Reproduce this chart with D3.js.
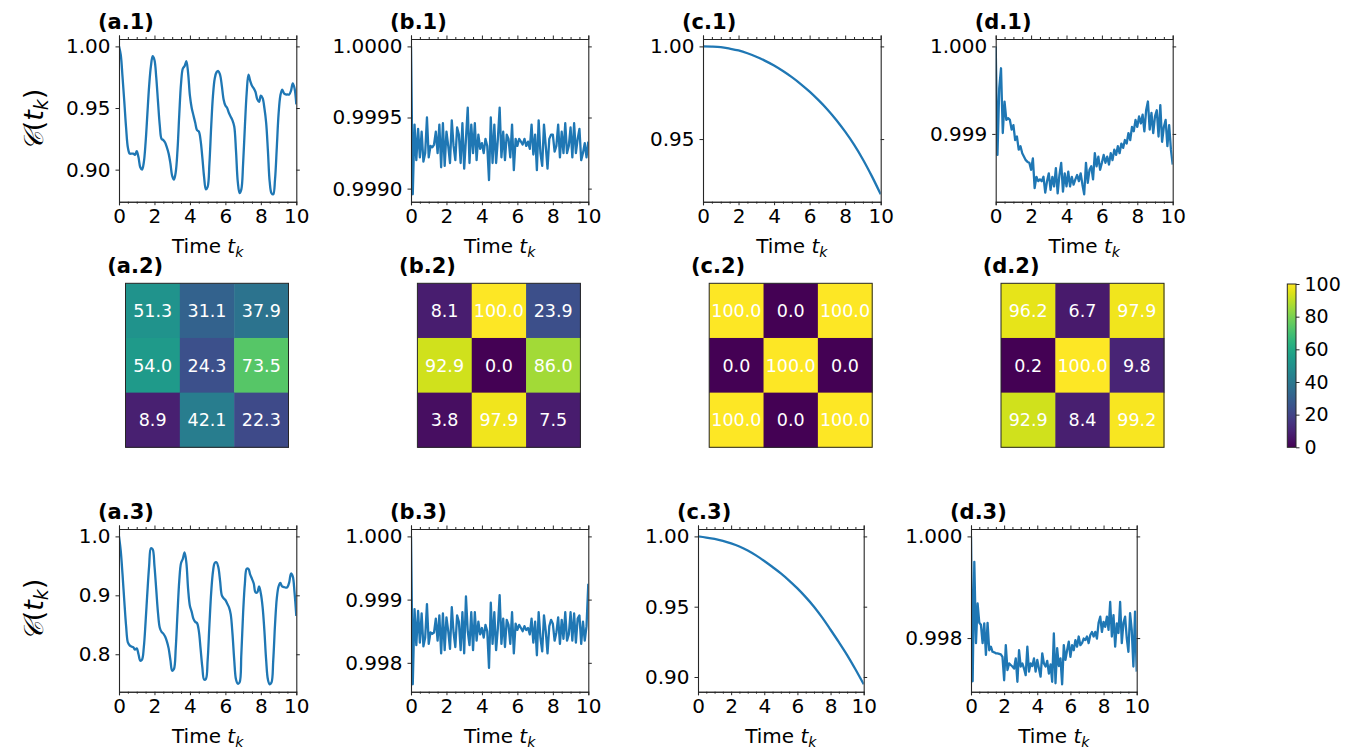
<!DOCTYPE html>
<html><head><meta charset="utf-8">
<script src="https://cdn.jsdelivr.net/npm/d3@7"></script>
<style>body{margin:0;background:#fff} text{font-family:"DejaVu Sans",sans-serif;fill:#000}</style>
</head><body><svg id="c" width="1360" height="750"></svg>
<script>
// ---------------- DATA ----------------
const timeTicks = [0, 2, 4, 6, 8, 10];
const timeTickLabels = ["0", "2", "4", "6", "8", "10"];
const timeFine = d3.range(0, 101).map(i => i / 10);     // 0.0 .. 10.0 step 0.1
const timeCoarse = d3.range(0, 21).map(i => i / 2);     // 0.0 .. 10.0 step 0.5

const seriesA1 = [1.000,0.993,0.975,0.955,0.934,0.918,0.913,0.913,0.913,0.912,
0.915,0.910,0.902,0.900,0.906,0.922,0.945,0.968,0.984,0.992,
0.989,0.975,0.955,0.936,0.925,0.924,0.922,0.918,0.913,0.905,
0.895,0.892,0.898,0.916,0.945,0.970,0.982,0.984,0.988,0.978,
0.960,0.950,0.944,0.938,0.932,0.931,0.924,0.910,0.894,0.884,
0.886,0.905,0.935,0.960,0.974,0.979,0.980,0.977,0.968,0.957,
0.952,0.950,0.946,0.943,0.940,0.935,0.915,0.890,0.881,0.884,
0.905,0.935,0.962,0.977,0.972,0.968,0.966,0.963,0.957,0.955,
0.960,0.958,0.950,0.938,0.915,0.890,0.881,0.880,0.892,0.918,
0.945,0.960,0.965,0.962,0.961,0.961,0.961,0.964,0.970,0.966,0.953];

const seriesB1 = [1.00000,0.99896,0.99945,0.99920,0.99942,0.99922,0.99940,0.99919,0.99925,0.99950,
0.99922,0.99930,0.99929,0.99931,0.99940,0.99925,0.99945,0.99915,0.99946,0.99916,
0.99940,0.99930,0.99918,0.99948,0.99930,0.99920,0.99943,0.99938,0.99918,0.99946,
0.99914,0.99935,0.99957,0.99918,0.99945,0.99925,0.99946,0.99920,0.99938,0.99928,
0.99932,0.99925,0.99935,0.99930,0.99906,0.99950,0.99918,0.99945,0.99918,0.99935,
0.99957,0.99922,0.99940,0.99920,0.99938,0.99935,0.99922,0.99945,0.99913,0.99935,
0.99930,0.99935,0.99933,0.99931,0.99935,0.99930,0.99933,0.99928,0.99945,0.99924,
0.99938,0.99913,0.99948,0.99925,0.99916,0.99945,0.99930,0.99914,0.99935,0.99938,
0.99938,0.99926,0.99930,0.99945,0.99922,0.99940,0.99925,0.99946,0.99925,0.99930,
0.99943,0.99922,0.99946,0.99925,0.99935,0.99942,0.99920,0.99925,0.99932,0.99922,0.99933];

const seriesC1 = [1.0000,0.9999,0.9996,0.9988,0.9978,0.9963,0.9944,0.9922,0.9897,0.9867,
0.9834,0.9797,0.9756,0.9710,0.9660,0.9603,0.9540,0.9470,0.9390,0.9300,0.9202];

const seriesD1 = [1.00000,0.99876,0.99952,0.99975,0.99901,0.99937,0.99916,0.99918,0.99916,0.99905,
0.99910,0.99893,0.99897,0.99882,0.99886,0.99878,0.99874,0.99870,0.99868,0.99867,
0.99859,0.99872,0.99838,0.99851,0.99846,0.99848,0.99846,0.99851,0.99833,0.99846,
0.99855,0.99836,0.99851,0.99840,0.99861,0.99832,0.99853,0.99867,0.99834,0.99855,
0.99840,0.99857,0.99840,0.99851,0.99842,0.99848,0.99853,0.99846,0.99855,0.99842,
0.99831,0.99867,0.99844,0.99859,0.99863,0.99848,0.99878,0.99863,0.99874,0.99859,
0.99867,0.99876,0.99867,0.99874,0.99865,0.99878,0.99870,0.99882,0.99876,0.99886,
0.99878,0.99889,0.99884,0.99893,0.99889,0.99901,0.99893,0.99908,0.99903,0.99916,
0.99908,0.99920,0.99912,0.99922,0.99903,0.99927,0.99937,0.99905,0.99924,0.99901,
0.99920,0.99927,0.99897,0.99933,0.99891,0.99908,0.99916,0.99886,0.99910,0.99882,0.99865];

const seriesA3 = [1.000,0.975,0.935,0.890,0.848,0.820,0.815,0.813,0.812,0.808,
0.810,0.800,0.789,0.791,0.812,0.855,0.905,0.950,0.980,0.978,
0.950,0.910,0.870,0.845,0.838,0.835,0.830,0.822,0.810,0.790,
0.772,0.775,0.810,0.870,0.925,0.955,0.962,0.973,0.955,0.910,
0.882,0.872,0.860,0.855,0.853,0.840,0.810,0.778,0.757,0.758,
0.790,0.850,0.905,0.940,0.955,0.956,0.948,0.925,0.900,0.895,
0.892,0.886,0.880,0.868,0.835,0.790,0.757,0.750,0.752,0.800,
0.870,0.920,0.945,0.945,0.935,0.928,0.920,0.905,0.905,0.915,
0.903,0.880,0.840,0.790,0.757,0.749,0.752,0.790,0.850,0.895,
0.915,0.921,0.915,0.914,0.913,0.914,0.922,0.937,0.932,0.905,0.865];

const seriesB3 = [1.00000,0.99766,0.99885,0.99828,0.99882,0.99832,0.99878,0.99826,0.99840,0.99893,
0.99830,0.99848,0.99846,0.99848,0.99870,0.99835,0.99875,0.99815,0.99878,0.99820,
0.99872,0.99850,0.99822,0.99888,0.99848,0.99825,0.99875,0.99865,0.99820,0.99880,
0.99815,0.99905,0.99850,0.99828,0.99880,0.99820,0.99880,0.99835,0.99865,0.99845,
0.99855,0.99840,0.99860,0.99850,0.99792,0.99895,0.99830,0.99880,0.99820,0.99855,
0.99907,0.99830,0.99870,0.99825,0.99868,0.99860,0.99830,0.99880,0.99815,0.99862,
0.99852,0.99860,0.99855,0.99850,0.99858,0.99852,0.99855,0.99845,0.99870,0.99832,
0.99865,0.99812,0.99880,0.99840,0.99818,0.99875,0.99850,0.99815,0.99858,0.99868,
0.99862,0.99835,0.99848,0.99872,0.99830,0.99868,0.99838,0.99880,0.99835,0.99845,
0.99880,0.99835,0.99878,0.99832,0.99870,0.99875,0.99830,0.99865,0.99835,0.99858,0.99925];

const seriesC3 = [1.0000,0.9992,0.9982,0.9968,0.9950,0.9928,0.9900,0.9865,0.9825,0.9782,
0.9737,0.9686,0.9630,0.9568,0.9500,0.9422,0.9336,0.9248,0.9156,0.9055,0.8948];

const seriesD3 = [1.00000,0.99715,0.99950,0.99790,0.99868,0.99830,0.99826,0.99790,0.99829,0.99767,
0.99830,0.99776,0.99783,0.99773,0.99772,0.99770,0.99770,0.99769,0.99768,0.99763,
0.99717,0.99786,0.99737,0.99750,0.99747,0.99744,0.99740,0.99760,0.99714,0.99776,
0.99744,0.99750,0.99740,0.99727,0.99783,0.99734,0.99750,0.99745,0.99760,0.99734,
0.99757,0.99740,0.99724,0.99770,0.99750,0.99744,0.99755,0.99730,0.99748,0.99714,
0.99809,0.99711,0.99780,0.99745,0.99760,0.99709,0.99786,0.99757,0.99776,0.99793,
0.99763,0.99786,0.99776,0.99796,0.99783,0.99803,0.99786,0.99790,0.99799,0.99796,
0.99803,0.99790,0.99806,0.99812,0.99803,0.99812,0.99799,0.99830,0.99842,0.99812,
0.99832,0.99822,0.99842,0.99816,0.99871,0.99803,0.99845,0.99783,0.99829,0.99810,
0.99871,0.99790,0.99830,0.99842,0.99800,0.99773,0.99849,0.99816,0.99744,0.99852,0.99734];

const yTicksA1 = [0.90, 0.95, 1.00];       const yLabelsA1 = ["0.90", "0.95", "1.00"];
const yTicksB1 = [0.9990, 0.9995, 1.0000]; const yLabelsB1 = ["0.9990", "0.9995", "1.0000"];
const yTicksC1 = [0.95, 1.00];             const yLabelsC1 = ["0.95", "1.00"];
const yTicksD1 = [0.999, 1.000];           const yLabelsD1 = ["0.999", "1.000"];
const yTicksA3 = [0.8, 0.9, 1.0];          const yLabelsA3 = ["0.8", "0.9", "1.0"];
const yTicksB3 = [0.998, 0.999, 1.000];    const yLabelsB3 = ["0.998", "0.999", "1.000"];
const yTicksC3 = [0.90, 0.95, 1.00];       const yLabelsC3 = ["0.90", "0.95", "1.00"];
const yTicksD3 = [0.998, 1.000];           const yLabelsD3 = ["0.998", "1.000"];

const heatA2 = [[51.3, 31.1, 37.9], [54.0, 24.3, 73.5], [8.9, 42.1, 22.3]];
const heatB2 = [[8.1, 100.0, 23.9], [92.9, 0.0, 86.0], [3.8, 97.9, 7.5]];
const heatC2 = [[100.0, 0.0, 100.0], [0.0, 100.0, 0.0], [100.0, 0.0, 100.0]];
const heatD2 = [[96.2, 6.7, 97.9], [0.2, 100.0, 9.8], [92.9, 8.4, 99.2]];

const colorbarTicks = [0, 20, 40, 60, 80, 100];
const colorbarLabels = ["0", "20", "40", "60", "80", "100"];

// ---------------- DRAWING ----------------
const svg = d3.select("#c");
const LINE = "#1f77b4", SPINE = "#262626";
const FS = 20;

const linePanels = [
  {title: "(a.1)", x0: 119, x1: 296.3, y0: 39, y1: 201.7, t: timeFine, v: seriesA1, yt: yTicksA1, yl: yLabelsA1, smooth: true},
  {title: "(b.1)", x0: 411, x1: 588.3, y0: 39, y1: 201.7, t: timeFine, v: seriesB1, yt: yTicksB1, yl: yLabelsB1, smooth: false},
  {title: "(c.1)", x0: 703, x1: 880.7, y0: 39, y1: 201.7, t: timeCoarse, v: seriesC1, yt: yTicksC1, yl: yLabelsC1, smooth: true},
  {title: "(d.1)", x0: 995.7, x1: 1172.7, y0: 39, y1: 201.7, t: timeFine, v: seriesD1, yt: yTicksD1, yl: yLabelsD1, smooth: false},
  {title: "(a.3)", x0: 119, x1: 296.3, y0: 529, y1: 691.7, t: timeFine, v: seriesA3, yt: yTicksA3, yl: yLabelsA3, smooth: true},
  {title: "(b.3)", x0: 411, x1: 588.3, y0: 529, y1: 691.7, t: timeFine, v: seriesB3, yt: yTicksB3, yl: yLabelsB3, smooth: false},
  {title: "(c.3)", x0: 698, x1: 863.7, y0: 529, y1: 691.7, t: timeCoarse, v: seriesC3, yt: yTicksC3, yl: yLabelsC3, smooth: true},
  {title: "(d.3)", x0: 971, x1: 1136.7, y0: 529, y1: 691.7, t: timeFine, v: seriesD3, yt: yTicksD3, yl: yLabelsD3, smooth: false},
];

const defs = svg.append("defs");

linePanels.forEach((p, i) => {
  const x = d3.scaleLinear().domain([0, 10]).range([p.x0, p.x1]);
  const [mn, mx] = d3.extent(p.v);
  const pad = (mx - mn) * 0.05;
  const y = d3.scaleLinear().domain([mn - pad, mx + pad]).range([p.y1, p.y0]);
  const g = svg.append("g");
  const minor = d3.range(0, 10.01, 0.5).filter(v => Math.abs(v / 2 - Math.round(v / 2)) > 1e-6);

  defs.append("clipPath").attr("id", "clip" + i).append("rect")
    .attr("x", p.x0).attr("y", p.y0).attr("width", p.x1 - p.x0).attr("height", p.y1 - p.y0);

  const line = d3.line().x((d, k) => x(p.t[k])).y(d => y(d))
    .curve(p.smooth ? d3.curveCatmullRom.alpha(0.5) : d3.curveLinear);
  g.append("path").datum(p.v).attr("d", line).attr("fill", "none")
    .attr("stroke", LINE).attr("stroke-width", 2.3).attr("stroke-linejoin", "round")
    .attr("clip-path", `url(#clip${i})`);

  g.append("g").attr("transform", `translate(0,${p.y1})`)
    .call(d3.axisBottom(x).tickValues(timeTicks).tickFormat((d, k) => timeTickLabels[k]).tickSize(3.5).tickPadding(4));
  g.append("g").attr("transform", `translate(0,${p.y1})`)
    .call(d3.axisBottom(x).tickValues(minor).tickFormat("").tickSize(2).tickSizeOuter(0));
  g.append("g").attr("transform", `translate(0,${p.y0})`)
    .call(d3.axisTop(x).tickValues(timeTicks).tickFormat("").tickSize(3.5));
  g.append("g").attr("transform", `translate(0,${p.y0})`)
    .call(d3.axisTop(x).tickValues(minor).tickFormat("").tickSize(2).tickSizeOuter(0));
  g.append("g").attr("transform", `translate(${p.x0},0)`)
    .call(d3.axisLeft(y).tickValues(p.yt).tickFormat((d, k) => p.yl[k]).tickSize(3.5).tickPadding(5).tickSizeOuter(0));
  g.append("g").attr("transform", `translate(${p.x1},0)`)
    .call(d3.axisRight(y).tickValues(p.yt).tickFormat("").tickSize(3.5).tickSizeOuter(0));

  g.selectAll(".domain").attr("stroke", SPINE).attr("stroke-width", 1.1);
  g.selectAll(".tick line").attr("stroke", SPINE).attr("stroke-width", 1);
  g.selectAll(".tick text").attr("font-size", FS).attr("font-family", "DejaVu Sans").attr("fill", "#000");

  g.append("text").attr("x", p.x0 - 21).attr("y", p.y0 - 10.5)
    .attr("font-size", 21).attr("font-weight", "bold").text(p.title);

  const xl = g.append("text").attr("x", (p.x0 + p.x1) / 2).attr("y", p.y1 + 51)
    .attr("text-anchor", "middle").attr("font-size", FS);
  xl.append("tspan").text("Time ");
  xl.append("tspan").attr("font-style", "italic").text("t");
  xl.append("tspan").attr("font-style", "italic").attr("font-size", 14).attr("dy", 4).text("k");
});

[{cy: 120}, {cy: 610}].forEach(r => {
  const t = svg.append("text").attr("transform", `translate(43,${r.cy}) rotate(-90)`)
    .attr("text-anchor", "middle").attr("font-size", 27);
  t.append("tspan").attr("font-family", "DejaVu Serif").attr("font-style", "italic").text("\u{1D49E}");
  t.append("tspan").text("(");
  t.append("tspan").attr("font-style", "italic").text("t");
  t.append("tspan").attr("font-style", "italic").attr("font-size", 19).attr("dy", 5).text("k");
  t.append("tspan").attr("dy", -5).text(")");
});

const color = d3.scaleSequential(d3.interpolateViridis).domain([0, 100]);
const heatPanels = [
  {title: "(a.2)", x0: 125.5, m: heatA2},
  {title: "(b.2)", x0: 417.4, m: heatB2},
  {title: "(c.2)", x0: 709.2, m: heatC2},
  {title: "(d.2)", x0: 1001, m: heatD2},
];
const HY0 = 283.3, HW = 163, HH = 164;
heatPanels.forEach(h => {
  const cx = d3.scaleBand().domain([0, 1, 2]).range([h.x0, h.x0 + HW]);
  const cy = d3.scaleBand().domain([0, 1, 2]).range([HY0, HY0 + HH]);
  const g = svg.append("g");
  const cells = h.m.flatMap((row, r) => row.map((v, c) => ({r, c, v})));
  g.selectAll("rect.cell").data(cells).join("rect")
    .attr("x", d => cx(d.c)).attr("y", d => cy(d.r))
    .attr("width", cx.bandwidth() + 0.5).attr("height", cy.bandwidth() + 0.5)
    .attr("fill", d => color(d.v));
  g.selectAll("text.val").data(cells).join("text")
    .attr("x", d => cx(d.c) + cx.bandwidth() / 2).attr("y", d => cy(d.r) + cy.bandwidth() / 2)
    .attr("dy", "0.36em").attr("text-anchor", "middle").attr("font-size", 17.5)
    .style("fill", "#fff").text(d => d.v.toFixed(1));
  g.append("rect").attr("x", h.x0).attr("y", HY0).attr("width", HW).attr("height", HH)
    .attr("fill", "none").attr("stroke", SPINE).attr("stroke-width", 1);
  g.append("text").attr("x", h.x0 - 18.3).attr("y", HY0 - 10.5)
    .attr("font-size", 21).attr("font-weight", "bold").text(h.title);
});

const CBX = 1287.3, CBW = 8.7, CBY0 = 284, CBY1 = 447.3;
const grad = defs.append("linearGradient").attr("id", "cbgrad")
  .attr("x1", 0).attr("y1", 1).attr("x2", 0).attr("y2", 0);
d3.range(0, 1.0001, 0.05).forEach(s => grad.append("stop").attr("offset", s).attr("stop-color", d3.interpolateViridis(s)));
svg.append("rect").attr("x", CBX).attr("y", CBY0).attr("width", CBW).attr("height", CBY1 - CBY0)
  .attr("fill", "url(#cbgrad)").attr("stroke", SPINE).attr("stroke-width", 1);
const cbScale = d3.scaleLinear().domain([0, 100]).range([CBY1, CBY0]);
const cbAxis = svg.append("g").attr("transform", `translate(${CBX + CBW},0)`)
  .call(d3.axisRight(cbScale).tickValues(colorbarTicks).tickFormat((d, k) => colorbarLabels[k]).tickSize(3.5).tickPadding(5).tickSizeOuter(0));
cbAxis.select(".domain").remove();
cbAxis.selectAll(".tick line").attr("stroke", SPINE);
cbAxis.selectAll(".tick text").attr("font-size", 19).attr("font-family", "DejaVu Sans").attr("fill", "#000");
</script></body></html>
